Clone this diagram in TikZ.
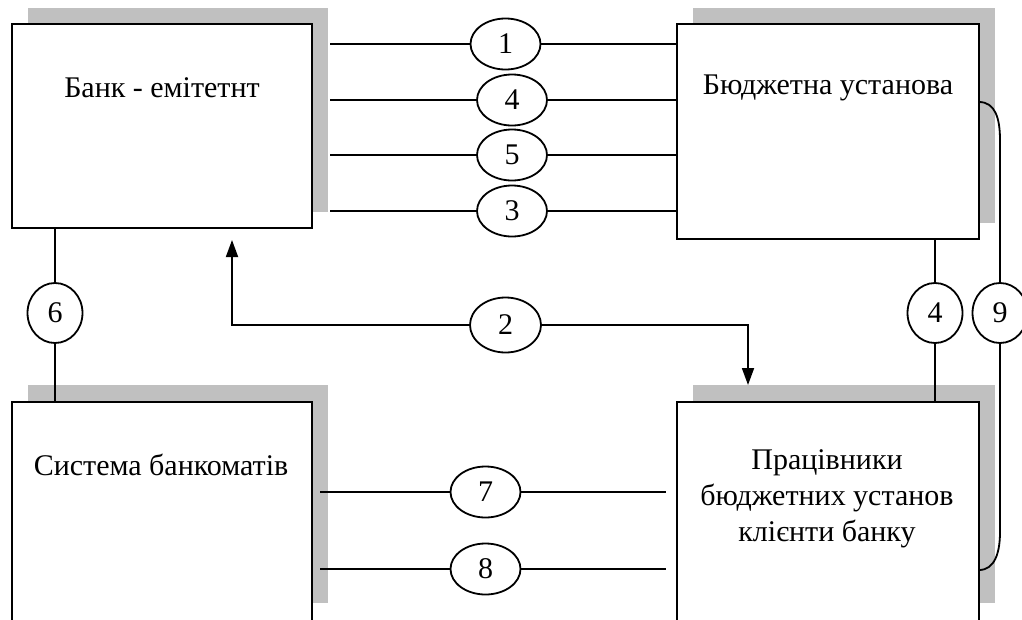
\documentclass[tikz,border=0pt]{standalone}
\usepackage{fontspec}
\setmainfont{Liberation Serif}
\usetikzlibrary{shapes.geometric,arrows.meta}
\definecolor{shade}{RGB}{192,192,192}
\begin{document}
\begin{tikzpicture}[x=1pt,y=-1pt,
  box/.style={draw,line width=2pt,fill=white,rectangle,inner sep=0pt},
  shad/.style={fill=shade},
  lbl/.style={font=\fontsize{30}{36}\selectfont,align=center,inner sep=0pt},
  num/.style={ellipse,draw,line width=1.8pt,fill=white,inner sep=0pt,font=\fontsize{30}{32}\selectfont},
  hnum/.style={num,minimum width=70pt,minimum height=51pt},
  vnum/.style={num,minimum width=55pt,minimum height=60pt},
  con/.style={line width=1.8pt},
  arr/.style={con,-{Triangle[width=12pt,length=17pt]}}]
\useasboundingbox (0,0) rectangle (1022,619);
\fill[white] (0,0) rectangle (1022,619);
% shadows
\fill[shad] (28,8) rectangle (328,212);
\fill[shad] (693,8) rectangle (995,223);
\fill[shad] (28,385) rectangle (328,603);
\fill[shad] (693,385) rectangle (995,603);
% boxes
\node[box,minimum width=300pt,minimum height=204pt] (b1) at (162,126) {};
\node[box,minimum width=302pt,minimum height=215pt] (b2) at (828,131.5) {};
\node[box,minimum width=300pt,minimum height=220pt] (b3) at (162,512) {};
\node[box,minimum width=302pt,minimum height=220pt] (b4) at (828,512) {};
% labels
\node[lbl] (t1) at (162,88) {Банк - емітетнт};
\node[lbl] (t2) at (828,88) {Бюджетна установа};
\node[lbl] (t3) at (161,465) {Система банкоматів};
\node[lbl] (t4) at (827,499) {Працівники\\бюджетних установ\\клієнти банку};
% top connectors
\coordinate (a1) at (330,44);
\coordinate (a4) at (330,100);
\coordinate (a5) at (330,155);
\coordinate (a3) at (330,211);
\node[hnum] (e1) at (505.5,44) {1};
\node[hnum] (e4) at (512,100) {4};
\node[hnum] (e5) at (512,155) {5};
\node[hnum] (e3) at (512,211) {3};
\draw[con] (a1) -- (e1) -- (b2.west |- a1);
\draw[con] (a4) -- (e4) -- (b2.west |- a4);
\draw[con] (a5) -- (e5) -- (b2.west |- a5);
\draw[con] (a3) -- (e3) -- (b2.west |- a3);
% connector 6
\node[vnum] (e6) at (55,313) {6};
\draw[con] (b1.south -| e6) -- (e6) -- (b3.north -| e6);
% connector 2
\node[hnum,minimum width=71pt,minimum height=55pt] (e2) at (505.5,325) {2};
\coordinate (k2l) at (232,325);
\coordinate (tip2l) at (232,240);
\coordinate (k2r) at (748,325);
\coordinate (tip2r) at (748,385);
\draw[arr] (e2) -- (k2l) -- (tip2l);
\draw[arr] (e2) -- (k2r) -- (tip2r);
% connector 4 (right)
\node[vnum] (e4b) at (935,313) {4};
\draw[con] (b2.south -| e4b) -- (e4b) -- (b4.north -| e4b);
% connector 9
\node[vnum] (e9) at (1000,313) {9};
\coordinate (s9) at (979,102);
\coordinate (f9) at (979,570);
\draw[con] (s9) .. controls (995,102) and (1000,118) .. (1000,140) -- (e9.north);
\draw[con] (e9.south) -- (1000,532) .. controls (1000,552) and (995,570) .. (f9);
% bottom connectors
\coordinate (a7) at (320,492);
\coordinate (z7) at (666,492);
\coordinate (a8) at (320,569);
\coordinate (z8) at (666,569);
\node[hnum] (e7) at (485.5,492) {7};
\node[hnum] (e8) at (485.5,569) {8};
\draw[con] (a7) -- (e7) -- (z7);
\draw[con] (a8) -- (e8) -- (z8);
\end{tikzpicture}
\end{document}
